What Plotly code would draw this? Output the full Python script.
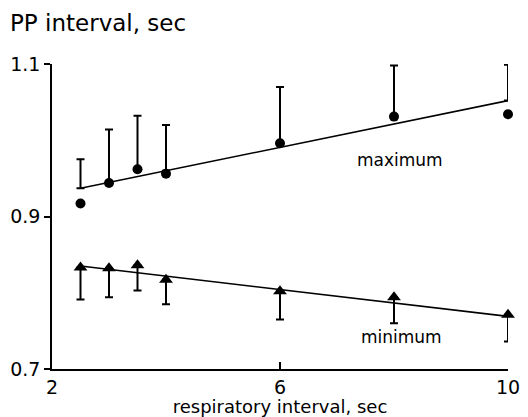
import numpy as np
import plotly.graph_objects as go

# ---- data ----
resp_interval = [2.5, 3, 3.5, 4, 6, 8, 10]
max_mean = [0.917, 0.944, 0.962, 0.956, 0.996, 1.031, 1.034]
max_upper = [0.975, 1.014, 1.032, 1.020, 1.070, 1.098, 1.099]
min_mean = [0.833, 0.832, 0.836, 0.817, 0.802, 0.794, 0.771]
min_lower = [0.791, 0.794, 0.803, 0.785, 0.765, 0.760, 0.736]
fit_x = [2.5, 10]
fit_max = [0.937, 1.052]
fit_min = [0.835, 0.769]
x_ticks = [2, 6, 10]
y_ticks = [0.7, 0.9, 1.1]
y_tick_text = ["0.7", "0.9", "1.1"]

FONT = "DejaVu Sans"
x = np.array(resp_interval)
mx = np.array(max_mean)
mxu = np.array(max_upper)
mn = np.array(min_mean)
mnl = np.array(min_lower)
# upper bars start at whichever is higher: the point or the fitted line
max_base = np.maximum(mx, np.interp(x, fit_x, fit_max))

fig = go.Figure()
# regression lines
fig.add_trace(go.Scatter(x=fit_x, y=fit_max, mode="lines", cliponaxis=False,
                         line=dict(color="black", width=1.6), hoverinfo="skip"))
fig.add_trace(go.Scatter(x=fit_x, y=fit_min, mode="lines", cliponaxis=False,
                         line=dict(color="black", width=1.6), hoverinfo="skip"))
# error bars (one-sided)
fig.add_trace(go.Scatter(x=x, y=max_base, mode="markers", cliponaxis=False,
                         marker=dict(size=1, opacity=0),
                         error_y=dict(type="data", symmetric=False,
                                      array=mxu - max_base, arrayminus=[0] * len(x),
                                      color="black", thickness=2, width=4)))
fig.add_trace(go.Scatter(x=x, y=mn, mode="markers", cliponaxis=False,
                         marker=dict(size=1, opacity=0),
                         error_y=dict(type="data", symmetric=False,
                                      array=[0] * len(x), arrayminus=mn - mnl,
                                      color="black", thickness=2, width=4)))
# markers
fig.add_trace(go.Scatter(x=x, y=mx, mode="markers", cliponaxis=False,
                         marker=dict(symbol="circle", size=10, color="black")))
fig.add_trace(go.Scatter(x=x, y=mn, mode="markers", cliponaxis=False,
                         marker=dict(symbol="triangle-up", size=12, color="black")))

fig.add_annotation(x=8.1, y=0.974, text="maximum", showarrow=False,
                   font=dict(family=FONT, size=17, color="black"))
fig.add_annotation(x=8.14, y=0.742, text="minimum", showarrow=False,
                   font=dict(family=FONT, size=17, color="black"))

fig.update_layout(
    width=528, height=417,
    margin=dict(l=52, r=20, t=64, b=48),
    paper_bgcolor="white", plot_bgcolor="white",
    showlegend=False,
    font=dict(family=FONT, color="black"),
    title=dict(text="PP interval, sec", xref="container", yref="container",
               x=10 / 528, xanchor="left", y=1 - 23 / 417, yanchor="middle",
               font=dict(family=FONT, size=23, color="black")),
    xaxis=dict(range=[2, 10], tickvals=x_ticks, ticktext=[str(t) for t in x_ticks],
               automargin=False,
               ticks="inside", ticklen=7, tickwidth=1.5, tickcolor="black",
               showline=True, linecolor="black", linewidth=1.5,
               showgrid=False, zeroline=False,
               tickfont=dict(family=FONT, size=19),
               title=dict(text="respiratory interval, sec", standoff=6,
                          font=dict(family=FONT, size=18))),
    yaxis=dict(range=[0.7, 1.1], tickvals=y_ticks, ticktext=y_tick_text,
               automargin=False,
               ticks="outside", ticklen=6, tickwidth=1.5, tickcolor="black",
               showline=True, linecolor="black", linewidth=1.5,
               showgrid=False, zeroline=False,
               tickfont=dict(family=FONT, size=19)),
)

fig.write_html("out.html")
